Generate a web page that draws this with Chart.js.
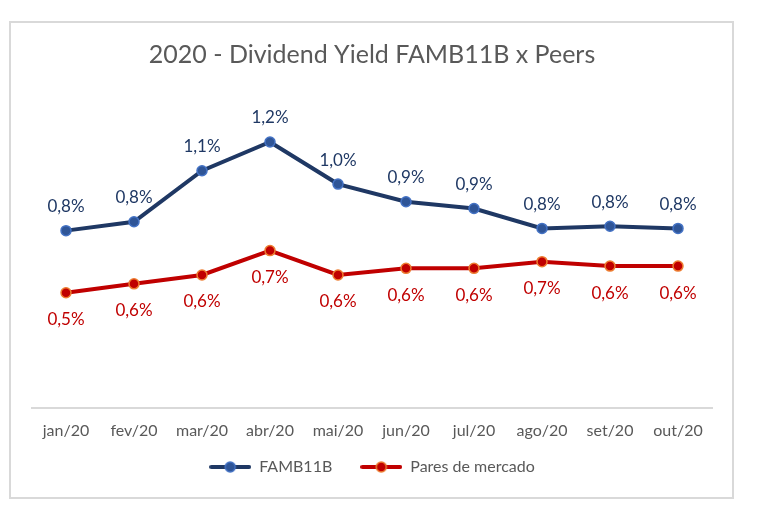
<!DOCTYPE html>
<html>
<head>
<meta charset="utf-8">
<script src="https://cdn.jsdelivr.net/npm/chart.js@4"></script>
<style>
  html, body { margin: 0; padding: 0; background: #ffffff; }
  #wrap { width: 759px; height: 519px; position: relative; }
</style>
</head>
<body>
<div id="wrap"><canvas id="c" width="759" height="519"></canvas></div>
<script>
const categories = ['jan/20','fev/20','mar/20','abr/20','mai/20','jun/20','jul/20','ago/20','set/20','out/20'];
const fambValues = [0.80, 0.84, 1.07, 1.20, 1.01, 0.93, 0.90, 0.81, 0.82, 0.81];
const peersValues = [0.52, 0.56, 0.60, 0.71, 0.60, 0.63, 0.63, 0.66, 0.64, 0.64];
const seriesNames = ['FAMB11B', 'Pares de mercado'];
const titleText = '2020 - Dividend Yield FAMB11B x Peers';

const FONT = 'Lato';
const GRAY = '#595959';
const BLUE_LINE = '#1F3864';
const BLUE_PT = '#2F5597';
const BLUE_PT_BORDER = '#4472C4';
const RED_LINE = '#C00000';
const RED_PT = '#C00000';
const RED_PT_BORDER = '#ED7D31';

function legendMarker(line, fill, border) {
  const cv = document.createElement('canvas');
  cv.width = 42; cv.height = 14;
  const g = cv.getContext('2d');
  g.strokeStyle = line; g.lineWidth = 4; g.lineCap = 'round';
  g.beginPath(); g.moveTo(2, 7); g.lineTo(40, 7); g.stroke();
  g.beginPath(); g.arc(21, 7, 5, 0, Math.PI * 2);
  g.fillStyle = fill; g.fill();
  g.lineWidth = 1.5; g.strokeStyle = border; g.stroke();
  return cv;
}
const legendMarkers = [
  legendMarker(BLUE_LINE, BLUE_PT, BLUE_PT_BORDER),
  legendMarker(RED_LINE, RED_PT, RED_PT_BORDER)
];

const framePlugin = {
  id: 'frame',
  beforeDraw(chart) {
    const ctx = chart.ctx;
    ctx.save();
    ctx.strokeStyle = '#d9d9d9';
    ctx.lineWidth = 2;
    ctx.strokeRect(10, 22, 723, 476);
    ctx.restore();
  }
};

const labelPlugin = {
  id: 'valueLabels',
  afterDatasetsDraw(chart) {
    const ctx = chart.ctx;
    ctx.save();
    ctx.font = '17px ' + FONT;
    ctx.textAlign = 'center';
    ctx.textBaseline = 'middle';
    chart.data.datasets.forEach((ds, di) => {
      const meta = chart.getDatasetMeta(di);
      const off = di === 0 ? -24 : 27;
      ctx.fillStyle = di === 0 ? BLUE_LINE : RED_LINE;
      meta.data.forEach((pt, i) => {
        const v = ds.data[i];
        const txt = v.toFixed(1).replace('.', ',') + '%';
        ctx.fillText(txt, pt.x, pt.y + off);
      });
    });
    ctx.restore();
  }
};

Chart.defaults.font.family = FONT;
Chart.defaults.color = GRAY;

new Chart(document.getElementById('c'), {
  type: 'line',
  data: {
    labels: categories,
    datasets: [
      {
        label: seriesNames[0],
        data: fambValues,
        borderColor: BLUE_LINE,
        backgroundColor: BLUE_PT,
        borderWidth: 4,
        pointStyle: 'circle',
        pointRadius: 5,
        pointBackgroundColor: BLUE_PT,
        pointBorderColor: BLUE_PT_BORDER,
        pointBorderWidth: 1.5,
        tension: 0
      },
      {
        label: seriesNames[1],
        data: peersValues,
        borderColor: RED_LINE,
        backgroundColor: RED_PT,
        borderWidth: 4,
        pointStyle: 'circle',
        pointRadius: 5,
        pointBackgroundColor: RED_PT,
        pointBorderColor: RED_PT_BORDER,
        pointBorderWidth: 1.5,
        tension: 0
      }
    ]
  },
  options: {
    responsive: false,
    animation: false,
    events: [],
    layout: { padding: { top: 22, left: 32, right: 47, bottom: 34 } },
    scales: {
      x: {
        offset: true,
        grid: { display: false, drawTicks: false },
        border: { display: true, color: '#d9d9d9', width: 2 },
        ticks: { color: GRAY, font: { size: 16 }, padding: 13, maxRotation: 0, autoSkip: false },
        afterFit(scale) {
          scale.height = 23;
          scale._computeLabelArea = () => undefined;
        }
      },
      y: {
        display: false,
        min: 0,
        max: 1.4
      }
    },
    plugins: {
      title: {
        display: true,
        text: titleText,
        color: GRAY,
        font: { size: 25, weight: 'normal' },
        padding: { top: 18, bottom: 27.6 }
      },
      legend: {
        display: true,
        position: 'bottom',
        labels: {
          color: GRAY,
          font: { size: 16 },
          usePointStyle: true,
          pointStyleWidth: 42,
          padding: 28,
          generateLabels(chart) {
            return chart.data.datasets.map((ds, i) => ({
              text: ds.label,
              pointStyle: legendMarkers[i],
              fillStyle: ds.backgroundColor,
              strokeStyle: ds.borderColor,
              lineWidth: 0,
              fontColor: GRAY,
              hidden: false,
              datasetIndex: i
            }));
          }
        }
      },
      tooltip: { enabled: false }
    }
  },
  plugins: [framePlugin, labelPlugin]
});
</script>
</body>
</html>
